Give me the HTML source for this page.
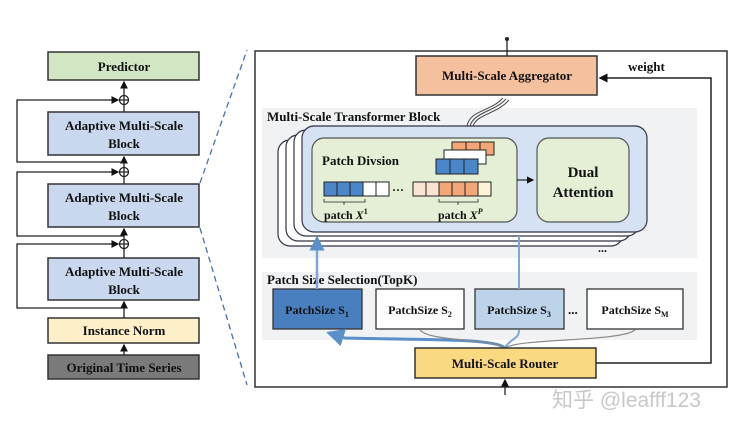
<!DOCTYPE html>
<html><head><meta charset="utf-8"><style>
html,body{margin:0;padding:0;background:#fff;}
svg{display:block;}
text{font-family:"Liberation Serif",serif;font-weight:bold;fill:#111;}
</style></head><body>
<svg width="731" height="429" viewBox="0 0 731 429" xmlns="http://www.w3.org/2000/svg">
<defs>
<marker id="ah" markerWidth="6" markerHeight="6" refX="5" refY="3" orient="auto"><path d="M0,0 L6,3 L0,6 z" fill="#111"/></marker>
<marker id="ab" markerWidth="6" markerHeight="6" refX="5" refY="3" orient="auto"><path d="M0,0 L6,3 L0,6 z" fill="#5b8fc9"/></marker>
</defs>
<!-- left column -->
<rect x="48" y="52" width="151" height="28" fill="#d3e6c4" stroke="#333" stroke-width="1.5"/>
<text x="124" y="71" font-size="13" text-anchor="middle">Predictor</text>
<g fill="#c9d8ee" stroke="#333" stroke-width="1.5">
<rect x="48" y="112" width="151" height="43"/>
<rect x="48" y="184" width="151" height="43"/>
<rect x="48" y="258" width="151" height="42"/>
</g>
<g font-size="13" text-anchor="middle">
<text x="124" y="130">Adaptive Multi-Scale</text><text x="124" y="148">Block</text>
<text x="124" y="202">Adaptive Multi-Scale</text><text x="124" y="220">Block</text>
<text x="124" y="276">Adaptive Multi-Scale</text><text x="124" y="294">Block</text>
</g>
<rect x="48" y="318" width="151" height="25" fill="#fdf0c8" stroke="#333" stroke-width="1.5"/>
<text x="124" y="335" font-size="13" text-anchor="middle">Instance Norm</text>
<rect x="48" y="355" width="151" height="24" fill="#7a7a7a" stroke="#333" stroke-width="1.5"/>
<text x="124" y="372" font-size="13" text-anchor="middle">Original Time Series</text>
<g stroke="#222" stroke-width="1.3" fill="none">
<line x1="124" y1="355" x2="124" y2="345" marker-end="url(#ah)"/>
<line x1="124" y1="318" x2="124" y2="302" marker-end="url(#ah)"/>
<line x1="124" y1="258" x2="124" y2="249"/>
<line x1="124" y1="240" x2="124" y2="229" marker-end="url(#ah)"/>
<line x1="124" y1="184" x2="124" y2="177"/>
<line x1="124" y1="168" x2="124" y2="157" marker-end="url(#ah)"/>
<line x1="124" y1="112" x2="124" y2="105"/>
<line x1="124" y1="96" x2="124" y2="82" marker-end="url(#ah)"/>
<circle cx="124" cy="100" r="4.5" fill="#fff"/><path d="M119.5,100 H128.5 M124,95.5 V104.5"/>
<circle cx="124" cy="172" r="4.5" fill="#fff"/><path d="M119.5,172 H128.5 M124,167.5 V176.5"/>
<circle cx="124" cy="244" r="4.5" fill="#fff"/><path d="M119.5,244 H128.5 M124,239.5 V248.5"/>
<polyline points="124,162 17,162 17,100 118,100" marker-end="url(#ah)"/>
<polyline points="124,236 17,236 17,172 118,172" marker-end="url(#ah)"/>
<polyline points="124,308 17,308 17,244 118,244" marker-end="url(#ah)"/>
</g>
<g stroke="#4a72a8" stroke-width="1.3" stroke-dasharray="6,4" fill="none">
<line x1="200" y1="183" x2="247" y2="50"/>
<line x1="200" y1="228" x2="247" y2="385"/>
</g>
<!-- right frame -->
<rect x="255" y="51" width="472" height="336" fill="#fff" stroke="#333" stroke-width="1.5"/>
<rect x="262" y="108" width="435" height="150" fill="#f1f2f3"/>
<rect x="262" y="272" width="435" height="68" fill="#f1f2f3"/>
<text x="267" y="121" font-size="13">Multi-Scale Transformer Block</text>
<g stroke="#334" stroke-width="1.2">
<rect x="278" y="140" width="345" height="106" rx="12" fill="#fff"/>
<rect x="286" y="135" width="345" height="106" rx="12" fill="#fff"/>
<rect x="294" y="130" width="345" height="106" rx="12" fill="#fff"/>
<rect x="302" y="126" width="345" height="106" rx="12" fill="#d4e2f3"/>
<rect x="312" y="138" width="205" height="84" rx="12" fill="#e4efd6" stroke="#555"/>
<rect x="537" y="138" width="92" height="84" rx="12" fill="#e4efd6" stroke="#555"/>
</g>
<text x="598" y="252" font-size="12">...</text>
<text x="322" y="165" font-size="13">Patch Divsion</text>
<text x="583" y="177" font-size="15" text-anchor="middle">Dual</text>
<text x="583" y="197" font-size="15" text-anchor="middle">Attention</text>
<line x1="517" y1="180" x2="533" y2="180" stroke="#222" stroke-width="1.2" marker-end="url(#ah)"/>
<g stroke="#222" stroke-width="1">
<rect x="452" y="142" width="14" height="13" fill="#f3a778"/><rect x="466" y="142" width="14" height="13" fill="#f3a778"/><rect x="480" y="142" width="14" height="13" fill="#f3a778"/>
<rect x="444" y="150" width="42" height="14" fill="#fff"/>
<rect x="436" y="159" width="14" height="15" fill="#4a86c8"/><rect x="450" y="159" width="14" height="15" fill="#4a86c8"/><rect x="464" y="159" width="14" height="15" fill="#4a86c8"/>
<rect x="324" y="182" width="13" height="14" fill="#4a86c8"/><rect x="337" y="182" width="13" height="14" fill="#4a86c8"/><rect x="350" y="182" width="13" height="14" fill="#4a86c8"/>
<rect x="363" y="182" width="13" height="14" fill="#fff"/><rect x="376" y="182" width="13" height="14" fill="#fff"/>
<rect x="413" y="182" width="13" height="14" fill="#fbe3d2"/><rect x="426" y="182" width="13" height="14" fill="#fbe3d2"/>
<rect x="439" y="182" width="13" height="14" fill="#f3a778"/><rect x="452" y="182" width="13" height="14" fill="#f3a778"/><rect x="465" y="182" width="13" height="14" fill="#f3a778"/>
<rect x="478" y="182" width="13" height="14" fill="#fdf3d6"/>
</g>
<text x="392" y="194" font-size="12">···</text>
<g stroke="#222" stroke-width="0.8" fill="none">
<path d="M324,199 v3 h41 v-3 M344,202 v3"/>
<path d="M439,199 v3 h39 v-3 M458,202 v3"/>
</g>
<text x="324" y="219" font-size="12">patch <tspan font-style="italic">X</tspan><tspan font-size="8" dy="-5">1</tspan></text>
<text x="438" y="219" font-size="12">patch <tspan font-style="italic">X</tspan><tspan font-size="8" dy="-5" font-style="italic">P</tspan></text>
<!-- aggregator -->
<rect x="416" y="56" width="181" height="39" fill="#f4c09e" stroke="#333" stroke-width="1.5"/>
<text x="507" y="80" font-size="13" text-anchor="middle">Multi-Scale Aggregator</text>
<line x1="507" y1="56" x2="507" y2="40" stroke="#222" stroke-width="1.3"/>
<circle cx="507" cy="39" r="2" fill="#222"/>
<text x="628" y="71" font-size="13">weight</text>
<polyline points="596,363 711,363 711,78 600,78" fill="none" stroke="#222" stroke-width="1.5" marker-end="url(#ah)"/>
<g stroke="#444" stroke-width="1" fill="none">
<path d="M467,126 C470,110 490,112 503,98"/><path d="M470,126 C474,112 494,112 506,99"/><path d="M473,126 C477,114 497,114 509,100"/>
</g>
<!-- patch size selection -->
<text x="267" y="284" font-size="13">Patch Size Selection(TopK)</text>
<g stroke="#333" stroke-width="1.3">
<rect x="273" y="289" width="89" height="40" fill="#4a7fbf"/>
<rect x="376" y="289" width="88" height="40" fill="#fff"/>
<rect x="475" y="289" width="89" height="40" fill="#bcd3ea"/>
<rect x="587" y="289" width="96" height="40" fill="#fff"/>
</g>
<g font-size="12" text-anchor="middle">
<text x="317" y="314">PatchSize S<tspan font-size="8" dy="3">1</tspan></text>
<text x="420" y="314">PatchSize S<tspan font-size="8" dy="3">2</tspan></text>
<text x="519" y="314">PatchSize S<tspan font-size="8" dy="3">3</tspan></text>
<text x="635" y="314">PatchSize S<tspan font-size="8" dy="3">M</tspan></text>
</g>
<text x="568" y="314" font-size="13">...</text>
<g fill="none" stroke-width="3" stroke="#7ea7d6">
<path d="M505,348 C495,338 420,340 345,338 L329,333" stroke="#5b8fc9" marker-end="url(#ab)"/>
<line x1="317" y1="289" x2="317" y2="238" stroke-width="2.5" marker-end="url(#ab)"/>
<path d="M505,348 C510,338 519,340 519,330" stroke-width="2"/>
<line x1="519" y1="289" x2="519" y2="236" stroke-width="2"/>
</g>
<g fill="none" stroke="#888" stroke-width="1.2">
<path d="M505,348 C490,338 430,342 420,330"/>
<path d="M505,348 C520,338 620,342 635,330"/>
</g>
<rect x="415" y="348" width="181" height="30" fill="#fbd980" stroke="#333" stroke-width="1.5"/>
<text x="505" y="368" font-size="13" text-anchor="middle">Multi-Scale Router</text>
<line x1="505" y1="395" x2="505" y2="380" stroke="#222" stroke-width="1.3" marker-end="url(#ah)"/>
<text x="552" y="407" font-size="21" style="font-family:'Liberation Sans','Noto Sans CJK SC',sans-serif;font-weight:normal;fill:#c8c8c8">知乎 @leafff123</text>
</svg>
</body></html>
